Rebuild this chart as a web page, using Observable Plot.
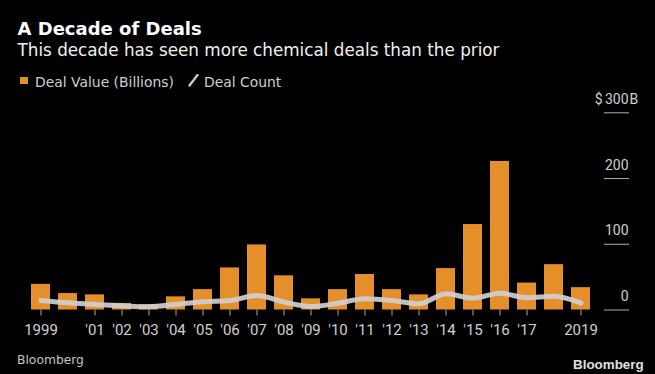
<!DOCTYPE html>
<html>
<head>
<meta charset="utf-8">
<script src="https://cdn.jsdelivr.net/npm/d3@7"></script>
<script src="https://cdn.jsdelivr.net/npm/@observablehq/plot@0.6"></script>
<style>
  html, body { margin: 0; padding: 0; background: #000; }
  #wrap { position: relative; width: 655px; height: 374px; background: #000; overflow: hidden; }
  .t { position: absolute; white-space: nowrap; line-height: 1; z-index: 2; }
  #title { left: 17.5px; top: 18.3px; font: bold 18px "DejaVu Sans"; color: #fff; }
  #subtitle { left: 17.5px; top: 40.1px; font: 16.8px "DejaVu Sans"; color: #f0f0f0; }
  #legend { left: 0; top: 74.4px; font: 13.9px "DejaVu Sans"; color: #cfcfcf; }
  #source { left: 17px; top: 352.6px; font: 12.3px "DejaVu Sans"; color: #c4c4c4; }
  #logo { left: 573px; top: 357px; font: bold 13.4px "Liberation Sans"; color: #e0e0e0; }
  #chart { position: absolute; left: 0; top: 90px; z-index: 1; }
</style>
</head>
<body>
<div id="wrap">
  <div id="chart"></div>
  <div class="t" id="title">A Decade of Deals</div>
  <div class="t" id="subtitle">This decade has seen more chemical deals than the prior</div>
  <div class="t" id="legend">
    <span style="position:absolute;left:20px;top:2.3px;width:7.7px;height:7.7px;background:#e58f2a;"></span>
    <span style="position:absolute;left:35px;top:0;">Deal Value (Billions)</span>
    <svg style="position:absolute;left:188px;top:0px;" width="11" height="13"><line x1="1.5" y1="11.5" x2="9.5" y2="1" stroke="#c8c8c8" stroke-width="2.4" stroke-linecap="round"/></svg>
    <span style="position:absolute;left:204px;top:0;">Deal Count</span>
  </div>
  <div class="t" id="source">Bloomberg</div>
  <div class="t" id="logo">Bloomberg</div>
</div>
<script>
const years = [1999,2000,2001,2002,2003,2004,2005,2006,2007,2008,2009,2010,2011,2012,2013,2014,2015,2016,2017,2018,2019];
const dealValue = [39,25,23,10,8,20,31,64,99,52,17,31,54,31,23,63,130,226,41,69,34];
// deal count as drawn on the value axis
const dealCount = [14.5,11,8.4,6.4,4.9,8.4,12.5,14.5,22,12,5.3,10.4,17,14.5,9.4,24.7,18,25.6,18.6,21,10.4];
const yTicks = [0,100,200,300];
const xTickYears = [1999,2001,2002,2003,2004,2005,2006,2007,2008,2009,2010,2011,2012,2013,2014,2015,2016,2017,2019];
const xTickLabel = y => (y === 1999 || y === 2019) ? String(y) : "'" + String(y).slice(2);

const data = years.map((y, i) => ({year: y, value: dealValue[i], count: dealCount[i]}));
const tickColor = "#d0d0d0";

const chart = Plot.plot({
  width: 655,
  height: 284,
  marginTop: 22.3,
  marginBottom: 64.5,
  marginLeft: 0,
  marginRight: 52,
  style: {background: "#000", color: "#cccccc", fontFamily: "Roboto", overflow: "visible"},
  x: {type: "band", domain: years, range: [19.35, 601.05], paddingInner: 0.314, paddingOuter: 0.157},
  y: {domain: [0, 300], range: [219.5, 22.3]},
  marks: [
    Plot.barY(data, {x: "year", y: "value", fill: "#e58f2a"}),
    Plot.line(data, {x: "year", y: "count", stroke: "#cfcfcf", strokeOpacity: 0.92, strokeWidth: 5, curve: "monotone-x", strokeLinecap: "round"}),
    Plot.axisX({ticks: xTickYears, tickFormat: xTickLabel, tickSize: 6, tickPadding: 8, fontSize: 15, fill: tickColor, stroke: "#aaaaaa", label: null}),
    Plot.axisY({anchor: "right", ticks: yTicks, tickSize: 25, tickFormat: () => "", stroke: "#b0b0b0", label: null}),
    Plot.text(yTicks, {y: d => d, text: d => String(d), frameAnchor: "right", textAnchor: "end", dx: 25, dy: -13.5, fontSize: 14, fill: tickColor}),
    Plot.text([300], {y: d => d, text: () => "$", frameAnchor: "right", textAnchor: "end", dx: -1, dy: -13.5, fontSize: 14, fill: tickColor}),
    Plot.text([300], {y: d => d, text: () => "B", frameAnchor: "right", textAnchor: "start", dx: 26, dy: -13.5, fontSize: 14, fill: tickColor})
  ]
});
document.getElementById("chart").appendChild(chart);
</script>
</body>
</html>
